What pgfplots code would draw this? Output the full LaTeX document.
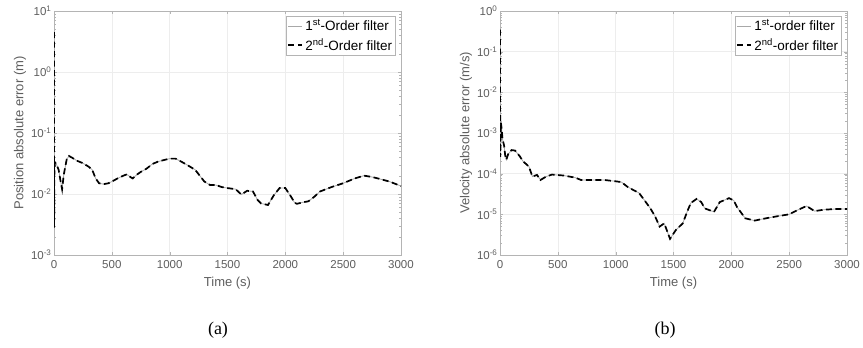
\documentclass[border=0pt]{standalone}
\usepackage{pgfplots}
\pgfplotsset{compat=1.18}
\usepackage{fontspec}
\setmainfont{Liberation Sans}
\newfontfamily\capfont{Liberation Serif}
\definecolor{txt}{HTML}{5E5E5E}
\definecolor{axc}{HTML}{B4B4B4}
\definecolor{grd}{HTML}{EDEDED}
\definecolor{first}{HTML}{A8A8A8}
\pgfplotsset{
  legend image code/.code={\draw[#1] (0pt,0pt) -- (14pt,0pt);},
  every axis/.append style={
    scale only axis, width=347pt, height=244pt,
    xmin=0, xmax=3000,
    xtick={0,500,...,3000},
    /pgf/number format/assume math mode=true,
    /pgf/number format/1000 sep={},
    tick label style={font=\fontsize{11.5}{13}\selectfont, text=txt},
    label style={font=\fontsize{13}{15}\selectfont, text=txt},
    axis line style={axc},
    tick style={axc},
    major tick length=3pt, minor tick length=1.8pt,
    tick align=inside,
    grid=major, major grid style={grd, line width=0.5pt},
    xlabel={Time (s)},
    xlabel style={yshift=-2pt},
    xticklabel style={yshift=-2pt},
    yticklabel style={xshift=1pt},
    legend style={at={(0.985,0.98)}, anchor=north east, draw=axc, font=\fontsize{13.5}{15}\selectfont, inner sep=1.5pt, row sep=2pt},
    legend cell align=left,
  },
}
\pgfplotstableread{
x y
0 4.5
1 0.0028
3 0.02
8 0.033
20 0.031
40 0.025
55 0.017
70 0.012
85 0.021
110 0.037
130 0.042
160 0.039
200 0.035
250 0.032
300 0.028
330 0.025
360 0.018
390 0.015
430 0.0145
470 0.015
500 0.016
550 0.018
600 0.020
630 0.021
660 0.019
680 0.018
720 0.021
750 0.023
800 0.026
850 0.031
900 0.034
950 0.036
1000 0.038
1050 0.038
1100 0.034
1150 0.030
1220 0.025
1260 0.020
1300 0.016
1350 0.014
1400 0.014
1450 0.013
1500 0.0125
1570 0.012
1620 0.0098
1670 0.0113
1720 0.011
1760 0.008
1790 0.007
1850 0.0066
1900 0.0095
1950 0.0125
2000 0.0125
2050 0.009
2080 0.0072
2100 0.0069
2150 0.0073
2200 0.0076
2250 0.009
2300 0.011
2400 0.013
2500 0.015
2600 0.018
2680 0.020
2750 0.019
2800 0.018
2900 0.016
3000 0.0135
}\posdata
\pgfplotstableread{
x y
0 0.35
2 0.00026
8 0.0018
15 0.0012
22 0.0007
35 0.0005
45 0.00028
55 0.00022
70 0.0003
100 0.00038
130 0.00037
170 0.00027
200 0.0002
250 0.00015
280 0.000085
320 0.000093
350 0.00007
400 0.000085
450 0.000095
550 0.00009
650 0.00008
700 0.00007
800 0.00007
900 0.00007
1000 0.000065
1050 0.000062
1100 0.000048
1150 0.00004
1200 0.000034
1250 0.000022
1300 0.000014
1340 0.000009
1380 0.000005
1420 0.000006
1470 0.0000025
1520 0.0000041
1580 0.000006
1620 0.000012
1650 0.000019
1700 0.000024
1740 0.00002
1770 0.000014
1850 0.0000115
1900 0.00002
1980 0.000025
2020 0.000022
2050 0.000015
2120 0.000008
2200 0.000007
2300 0.000008
2400 0.000009
2500 0.00001
2580 0.000013
2650 0.000016
2720 0.000012
2800 0.000013
2900 0.0000135
3000 0.0000135
}\veldata
\begin{document}
\begin{tikzpicture}
\useasboundingbox (0,0) rectangle (863pt,348pt);
\begin{semilogyaxis}[at={(54pt,93pt)}, anchor=south west,
  ymin=1e-3, ymax=10,
  ytick={1e-3,1e-2,1e-1,1,10},
  yticklabels={10\textsuperscript{-3},10\textsuperscript{-2},10\textsuperscript{-1},10\textsuperscript{0},10\textsuperscript{1}},
  ylabel={Position absolute error (m)},
  ylabel style={yshift=-2pt},
]
\addplot[first, line width=0.8pt, mark=none] table {\posdata};
\addlegendentry{1\textsuperscript{st}-Order filter}
\addplot[black, line width=1.7pt, dash pattern=on 6pt off 3.5pt, mark=none] table {\posdata};
\addlegendentry{2\textsuperscript{nd}-Order filter}
\end{semilogyaxis}
\begin{semilogyaxis}[at={(500pt,93pt)}, anchor=south west,
  ymin=1e-6, ymax=1,
  ytick={1e-6,1e-5,1e-4,1e-3,1e-2,1e-1,1},
  yticklabels={10\textsuperscript{-6},10\textsuperscript{-5},10\textsuperscript{-4},10\textsuperscript{-3},10\textsuperscript{-2},10\textsuperscript{-1},10\textsuperscript{0}},
  ylabel={Velocity absolute error (m/s)},
  ylabel style={yshift=-2pt},
]
\addplot[first, line width=0.8pt, mark=none] table {\veldata};
\addlegendentry{1\textsuperscript{st}-order filter}
\addplot[black, line width=1.7pt, dash pattern=on 6pt off 3.5pt, mark=none] table {\veldata};
\addlegendentry{2\textsuperscript{nd}-order filter}
\end{semilogyaxis}
\node[font=\capfont\fontsize{18}{20}\selectfont] at (218pt,18pt) {(a)};
\node[font=\capfont\fontsize{18}{20}\selectfont] at (665pt,18pt) {(b)};
\end{tikzpicture}
\end{document}
